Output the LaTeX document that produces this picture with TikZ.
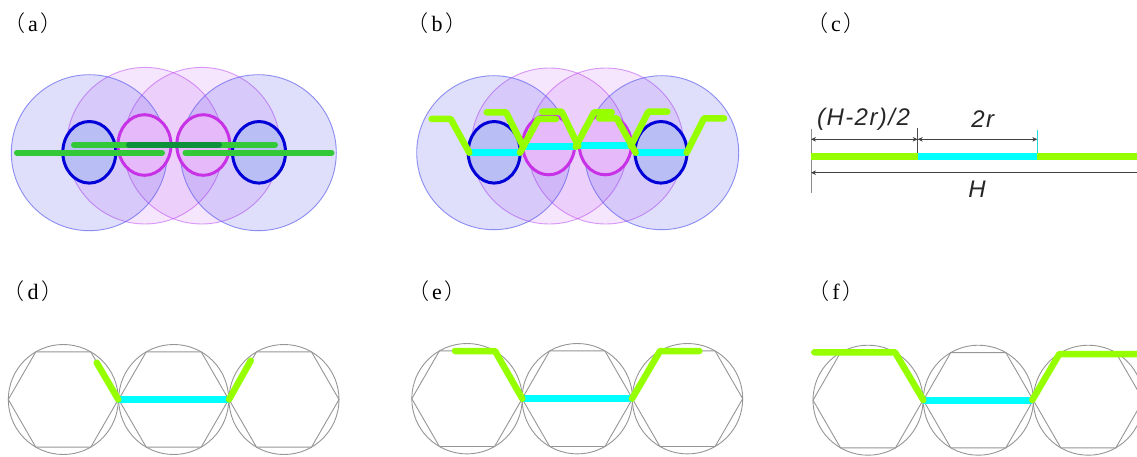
\documentclass[tikz,border=0pt]{standalone}
\usepackage{fontspec}
\usetikzlibrary{arrows.meta}
\setmainfont{Liberation Serif}
\newfontfamily\cjkfont{Noto Sans CJK SC Light}
\newfontfamily\dimfont[LetterSpace=6]{Liberation Sans}
\newfontfamily\labfont{Liberation Serif}
\definecolor{bigblue}{RGB}{60,60,235}
\definecolor{bigpink}{RGB}{185,60,240}
\definecolor{ringblue}{RGB}{0,0,215}
\definecolor{ringpink}{RGB}{200,50,230}
\definecolor{ringbfill}{RGB}{185,190,245}
\definecolor{ringpfill}{RGB}{230,185,250}
\definecolor{midgreen}{RGB}{50,200,55}
\definecolor{darkgreen}{RGB}{15,145,60}
\definecolor{lime}{RGB}{150,255,0}
\definecolor{cyanbar}{RGB}{0,255,255}
\definecolor{hexgray}{RGB}{150,150,150}
\tikzset{
  panel/.style={font=\labfont\fontsize{22}{24}\selectfont, inner sep=0pt, anchor=center},
  bigb/.style={draw=bigblue!80!white, line width=0.9pt, fill=bigblue, fill opacity=0.16, draw opacity=0.7},
  bigp/.style={draw=bigpink, line width=0.9pt, fill=bigpink, fill opacity=0.13, draw opacity=0.5},
  ringb/.style={draw=ringblue, line width=3pt, fill=ringbfill},
  ringp/.style={draw=ringpink, line width=3pt, fill=ringpfill},
  gbar/.style={draw=midgreen, line width=6pt, line cap=round},
  dbar/.style={draw=darkgreen, line width=6pt, line cap=round},
  limeline/.style={draw=lime, line width=6.5pt, line cap=round, line join=round},
  cyanline/.style={draw=cyanbar, line width=7pt},
  thinc/.style={draw=hexgray, line width=0.9pt},
  dimline/.style={draw=black!75, line width=0.7pt, {Stealth[length=5pt,width=4.5pt]}-{Stealth[length=5pt,width=4.5pt]}},
  dimlabel/.style={font=\dimfont\itshape\fontsize{24}{26}\selectfont, inner sep=0pt, text=black!85},
}
\newcommand{\plab}[3]{\node[panel] (#3) at (#1) {{\cjkfont（}\kern3pt #2\kern3pt{\cjkfont）}};}
\newcommand{\hexcirc}[3]{%
  \draw[thinc] (#1,#2) circle[radius=#3];
  \draw[thinc] (#1+#3,#2) -- (#1+0.5*#3,#2+0.866*#3) -- (#1-0.5*#3,#2+0.866*#3)
     -- (#1-#3,#2) -- (#1-0.5*#3,#2-0.866*#3) -- (#1+0.5*#3,#2-0.866*#3) -- cycle;
}
\begin{document}
\begin{tikzpicture}[x=1pt,y=-1pt]
\useasboundingbox (0,0) rectangle (1137,457);
\clip (0,0) rectangle (1137,457);
\fill[white] (0,0) rectangle (1137,457);
% labels
\plab{33,23}{a}{la}
\plab{437,23}{b}{lb}
\plab{836,23}{c}{lc}
\plab{33,291}{d}{ld}
\plab{437,291}{e}{le}
\plab{836,291}{f}{lf}
% (a)
\draw[bigp] (145,145.7) circle[radius=78.3];
\draw[bigp] (201.7,145.7) circle[radius=78.3];
\draw[bigb] (89.3,152.7) circle[radius=78];
\draw[bigb] (258.3,152.7) circle[radius=78];
\draw[ringb] (89.3,152.3) ellipse[x radius=26.5, y radius=30.8];
\draw[ringb] (259,152.3) ellipse[x radius=26.5, y radius=30.8];
\draw[ringp] (144.5,145) ellipse[x radius=26.5, y radius=30.3];
\draw[ringp] (203.3,145) ellipse[x radius=26.5, y radius=30.3];
\draw[gbar] (74,144.7) -- (275,144.7);
\draw[dbar] (129,144.7) -- (219,144.7);
\draw[gbar] (17,152.7) -- (162,152.7);
\draw[gbar] (185.5,152.7) -- (331.5,152.7);
% (b)
\draw[bigp] (549.3,146) circle[radius=78];
\draw[bigp] (605.7,146) circle[radius=78];
\draw[bigb] (493.7,152.7) circle[radius=77];
\draw[bigb] (661.7,152.7) circle[radius=77];
\draw[ringb] (494.2,152.3) ellipse[x radius=26, y radius=30.8];
\draw[ringb] (661,152.3) ellipse[x radius=26, y radius=30.8];
\draw[ringp] (548.7,144.8) ellipse[x radius=26, y radius=30];
\draw[ringp] (605.3,144.8) ellipse[x radius=26, y radius=30];
\draw[cyanline] (469.3,152.7) -- (520,152.7);
\draw[cyanline] (523.3,146.7) -- (575.7,146.7);
\draw[cyanline] (578.3,146) -- (630.7,146);
\draw[cyanline] (635.7,152.7) -- (686.7,152.7);
\draw[limeline] (431.7,119) -- (450.7,119) -- (469.3,152.7);
\draw[limeline] (520,152.7) -- (538.3,119) -- (556,119);
\draw[limeline] (486.7,112.3) -- (506,112.3) -- (523.3,146.7);
\draw[limeline] (575.7,146.7) -- (594,112.3) -- (611.7,112.3);
\draw[limeline] (542.3,111.7) -- (561.7,111.7) -- (578.3,146);
\draw[limeline] (630.7,146) -- (648.3,111.7) -- (667.3,111.7);
\draw[limeline] (599,118.3) -- (616.7,118.3) -- (635.7,152.7);
\draw[limeline] (686.7,152.7) -- (704,118.3) -- (724,118.3);
% (c)
\draw[draw=black!45, line width=1pt] (811,129.3) -- (811,193.3);
\draw[draw=black!70, line width=0.8pt] (917.7,128) -- (917.7,156);
\draw[draw=cyanbar!70!gray, line width=0.8pt] (1037.3,130) -- (1037.3,156);
\fill[lime] (811,153.4) rectangle (917.7,160);
\fill[cyanbar] (917.7,153.4) rectangle (1037.3,160);
\fill[lime] (1037.3,153.4) rectangle (1137,160);
\draw[dimline] (811,139.3) -- (917.7,139.3);
\draw[dimline] (917.7,139.3) -- (1037.3,139.3);
\draw[dimline] (811,172.7) -- (1150,172.7);
\node[dimlabel] (t1) at (863.5,119) {(H-2r)/2};
\node[dimlabel] (t2) at (982.7,119) {2r};
\node[dimlabel] (t3) at (977,189.5) {H};
% (d)
\hexcirc{63.3}{399.5}{55}
\hexcirc{173.7}{399.5}{55}
\hexcirc{284}{399.5}{55}
\draw[cyanline] (118.3,399.5) -- (229,399.5);
\draw[limeline] (96.7,362.7) -- (118.3,399.5);
\draw[limeline] (229,399.5) -- (250.7,360.7);
% (e)
\hexcirc{467}{398.7}{55.2}
\hexcirc{577.3}{398.7}{55.2}
\hexcirc{687.5}{398.7}{55.2}
\draw[cyanline] (522.3,398.7) -- (632,398.7);
\draw[limeline] (455,351) -- (495,351) -- (522.3,398.7);
\draw[limeline] (632,398.7) -- (660,351) -- (699.3,351);
% (f)
\hexcirc{868}{400.2}{55}
\hexcirc{978.3}{400.2}{55}
\hexcirc{1088.3}{400.2}{55}
\draw[cyanline] (923.3,400) -- (1032.3,400);
\draw[limeline] (814.3,352.3) -- (895,352.3) -- (923.3,400);
\draw[limeline] (1032.3,400) -- (1059.3,354) -- (1145,354);
\end{tikzpicture}
\end{document}
